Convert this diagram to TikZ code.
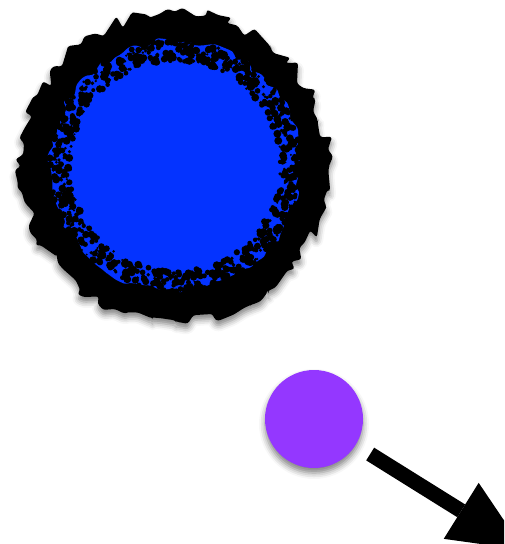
\documentclass[tikz,border=0pt]{standalone}
\usetikzlibrary{arrows.meta,decorations.pathmorphing,shadows.blur}
\definecolor{blueberry}{HTML}{0433FF}
\definecolor{grape}{HTML}{9437FF}
\tikzset{
  bong/.style={blur shadow={shadow xshift=0pt, shadow yshift=-5pt,
      shadow blur radius=6pt, shadow opacity=50}},
  vienxu/.style={decorate, decoration={random steps, segment length=8pt, amplitude=#1},
      rounded corners=2.5pt},
  vienxu/.default=4pt
}
\begin{document}
\begin{tikzpicture}[x=1pt, y=-1pt, >={Triangle[length=74pt, width=66pt, line width=0pt, fill=black]}]
    % 0. Khung hình
    \useasboundingbox (0,0) rectangle (504,544);
    \clip (0,0) rectangle (504,544);
    \pgfmathsetseed{42}

    % 1. Hình tròn lớn viền đen xù xì
    \coordinate (big) at (175,166);
    \fill[black, vienxu=7pt, bong] (big) circle (154pt);
    \fill[blueberry, vienxu=4pt] (big) circle (125pt);
    \foreach \i in {1,...,900} {
        \pgfmathsetmacro{\ang}{rnd*360}
        \pgfmathsetmacro{\rad}{105+rnd*21}
        \pgfmathsetmacro{\sz}{1+rnd*3}
        \fill[black] (big) ++(\ang:\rad) circle (\sz pt);
    }

    % 2. Quả bóng tím và mũi tên
    \node[circle, fill=grape, minimum size=98pt, inner sep=0pt, bong] (ball) at (314,419) {};
    \coordinate (mui) at (524,550);
    \draw[->, line width=15pt, shorten <=17pt] (ball) -- (mui);
\end{tikzpicture}
\end{document}
